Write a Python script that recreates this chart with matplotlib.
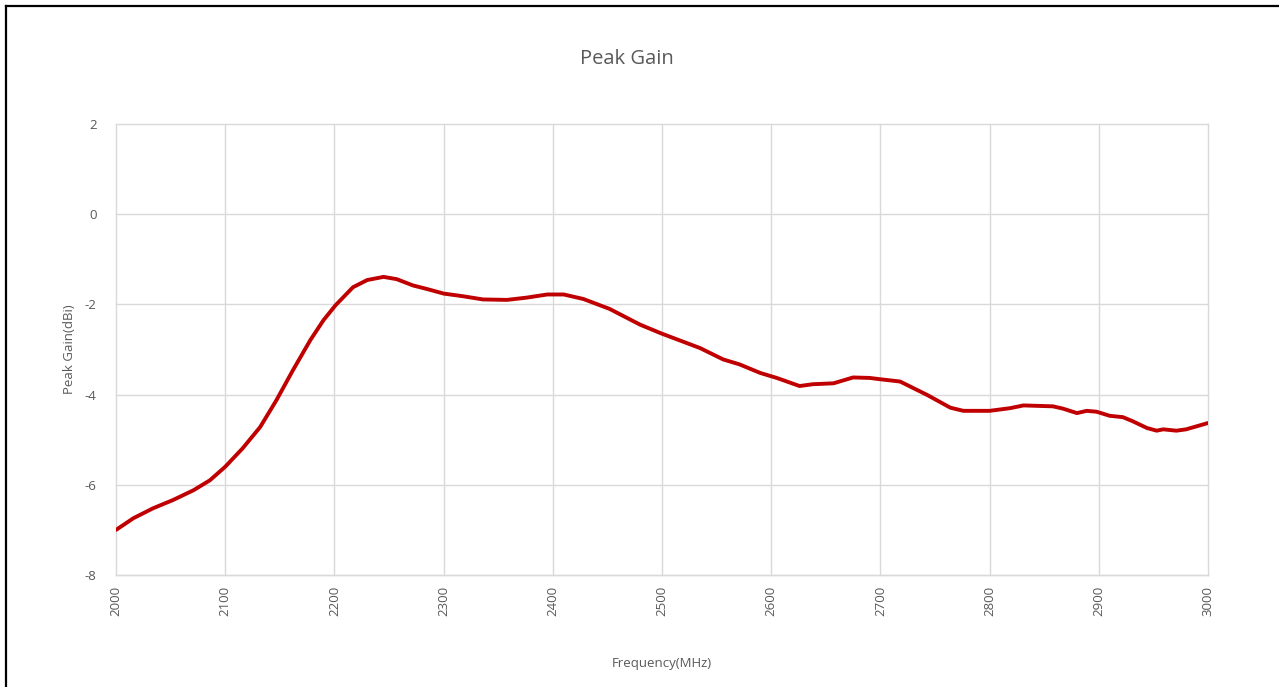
import matplotlib
matplotlib.use("Agg")
import matplotlib.pyplot as plt
from matplotlib.lines import Line2D

# Peak gain (MHz, dBi)
freq_mhz = [2000, 2016, 2034, 2052, 2071, 2086, 2100, 2116, 2132, 2147,
            2162, 2178, 2190, 2201, 2217, 2230, 2245, 2257, 2272, 2285,
            2300, 2318, 2336, 2358, 2376, 2395, 2410, 2428, 2452, 2480,
            2500, 2523, 2535, 2556, 2571, 2590, 2605, 2626, 2638, 2657,
            2675, 2690, 2700, 2718, 2743, 2764, 2776, 2800, 2819, 2831,
            2858, 2867, 2880, 2889, 2898, 2910, 2922, 2931, 2944, 2953,
            2959, 2971, 2980, 3000]
gain_dbi = [-7.00, -6.74, -6.52, -6.34, -6.12, -5.90, -5.60, -5.19, -4.72, -4.12,
            -3.46, -2.79, -2.35, -2.02, -1.62, -1.46, -1.39, -1.44, -1.58, -1.66,
            -1.76, -1.82, -1.89, -1.90, -1.85, -1.78, -1.78, -1.88, -2.10, -2.45,
            -2.65, -2.86, -2.97, -3.22, -3.33, -3.52, -3.63, -3.81, -3.77, -3.75,
            -3.62, -3.63, -3.66, -3.71, -4.01, -4.29, -4.36, -4.36, -4.30, -4.24,
            -4.26, -4.31, -4.41, -4.36, -4.38, -4.47, -4.50, -4.59, -4.74, -4.80,
            -4.77, -4.80, -4.77, -4.63]

x_ticks = list(range(2000, 3001, 100))
y_ticks = [-8, -6, -4, -2, 0, 2]

text_color = "#595959"
grid_color = "#d9d9d9"
plt.rcParams["font.family"] = ["Open Sans", "DejaVu Sans"]
plt.rcParams["axes.unicode_minus"] = False

fig = plt.figure(figsize=(12.79, 6.87), dpi=100)
ax = fig.add_axes([116 / 1279, 1 - 575 / 687, 1092 / 1279, 451 / 687])

ax.plot(freq_mhz, gain_dbi, color="#c00000", linewidth=2.8,
        solid_capstyle="round", solid_joinstyle="round", zorder=3)

ax.set_xlim(2000, 3000)
ax.set_ylim(-8, 2)
ax.set_xticks(x_ticks)
ax.set_yticks(y_ticks)
ax.set_xticklabels([str(t) for t in x_ticks], rotation=90)
ax.grid(True, color=grid_color, linewidth=1.0)
ax.set_axisbelow(True)
# keep the edge gridlines (2000 / 3000, -8 / 2) fully visible
for gl in ax.get_xgridlines() + ax.get_ygridlines():
    gl.set_clip_on(False)
for side in ["top", "right", "left"]:
    ax.spines[side].set_visible(False)
ax.spines["bottom"].set_color(grid_color)
ax.spines["bottom"].set_linewidth(1.0)
ax.tick_params(axis="both", length=0, colors=text_color, labelsize=9.5)
ax.tick_params(axis="x", pad=8)
ax.tick_params(axis="y", pad=14)

ax.set_ylabel("Peak Gain(dBi)", color=text_color, fontsize=9.5, labelpad=6)
ax.set_xlabel("Frequency(MHz)", color=text_color, fontsize=9.5, labelpad=29)
fig.text(627 / 1279, 1 - 59 / 687, "Peak Gain", color=text_color,
         fontsize=14.5, ha="center", va="center")

# chart frame (top and left edges visible in the reference)
fig.add_artist(Line2D([6 / 1279, 1], [1 - 6 / 687, 1 - 6 / 687],
                      color="black", linewidth=1.6))
fig.add_artist(Line2D([6 / 1279, 6 / 1279], [0, 1 - 6 / 687],
                      color="black", linewidth=1.6))

fig.savefig("out.png", dpi=100)
